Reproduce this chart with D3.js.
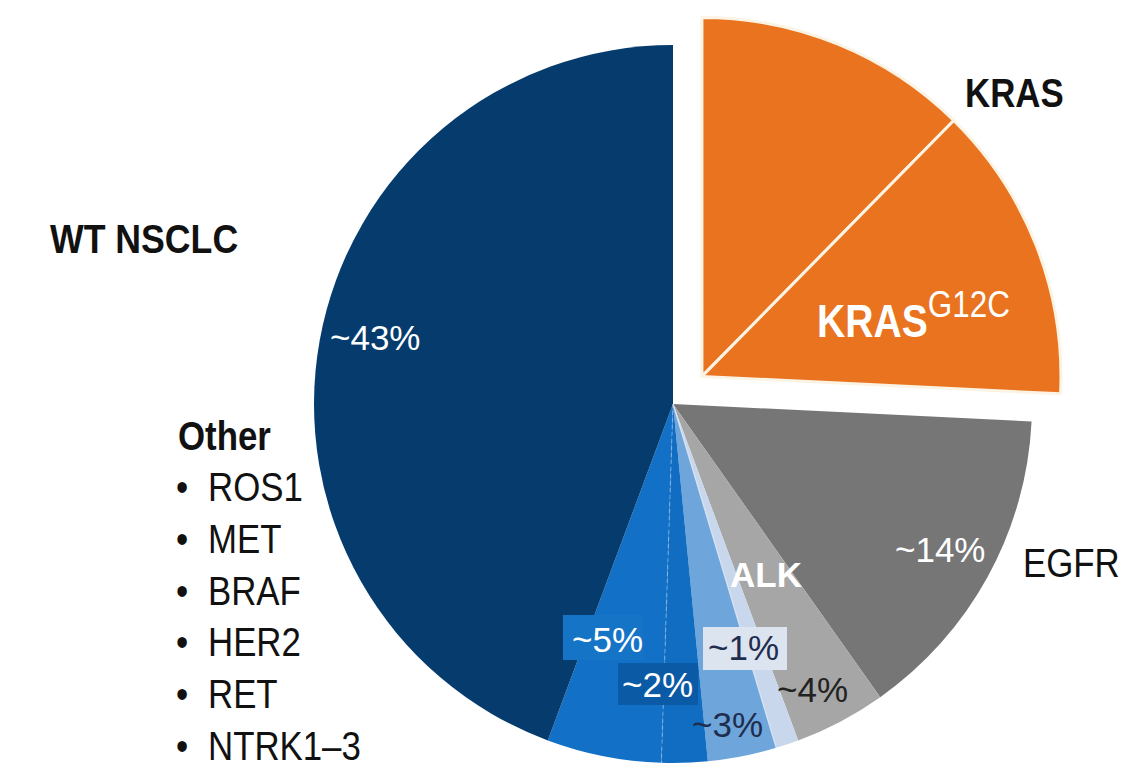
<!DOCTYPE html>
<html>
<head>
<meta charset="utf-8">
<script src="https://cdn.jsdelivr.net/npm/d3@7"></script>
<style>
  html, body { margin: 0; padding: 0; background: #ffffff; }
  svg { display: block; }
  text { font-family: "Liberation Sans", Arial, sans-serif; }
</style>
</head>
<body>
<svg id="chart" width="1132" height="769"></svg>
<script>
// Share of NSCLC by driver alteration (percent of patients)
const categories = ["KRAS (other)", "KRAS G12C", "EGFR", "ALK", "Other A", "Other B", "Other C", "Other D", "WT NSCLC"];
const shares     = [12, 13, 14, 4, 1, 3, 2, 5, 43];
const explodedCategories = ["KRAS (other)", "KRAS G12C"];
const otherDrivers = ["ROS1", "MET", "BRAF", "HER2", "RET", "NTRK1–3"];

// Visual settings
const colors = {
  "KRAS (other)": "#e9731e",
  "KRAS G12C":    "#e9731e",
  "EGFR":         "#767676",
  "ALK":          "#a6a6a6",
  "Other A":      "#c9d7ec",
  "Other B":      "#6ea6dc",
  "Other C":      "#106dc2",
  "Other D":      "#1271c6",
  "WT NSCLC":     "#063c6d"
};
const cx = 673, cy = 404, radius = 359, explode = 40;
const condensed = 0.87;

// Percentage label placement and style per slice
const pctLayout = {
  "EGFR":     { x: 895, y: 562, fill: "#ffffff" },
  "ALK":      { x: 777, y: 702, fill: "#222222" },
  "Other A":  { x: 708, y: 660, fill: "#1f2d4f", box: [703, 627, 84, 43, "#dce4ef"] },
  "Other B":  { x: 692, y: 737, fill: "#1f2d4f" },
  "Other C":  { x: 622, y: 697, fill: "#ffffff", box: [618, 663, 80, 42, "#0b5aa6"] },
  "Other D":  { x: 572, y: 652, fill: "#ffffff", box: [563, 615, 80, 45, "#1674c7"] },
  "WT NSCLC": { x: 330, y: 350, fill: "#ffffff" }
};

const svg = d3.select("#chart");

const pie = d3.pie().sort(null).value(d => d.value).startAngle(0).endAngle(2 * Math.PI);
const arcs = pie(categories.map((c, i) => ({ name: c, value: shares[i] })));
const arc = d3.arc().innerRadius(0).outerRadius(radius);

// Offset of the exploded KRAS group, along the bisector of its combined angle
const exArcs = arcs.filter(a => explodedCategories.includes(a.data.name));
const exMid = (d3.min(exArcs, a => a.startAngle) + d3.max(exArcs, a => a.endAngle)) / 2;
const [exDx, exDy] = d3.pointRadial(exMid, explode);

const pieG = svg.append("g").attr("transform", `translate(${cx},${cy})`);

pieG.selectAll("path.slice")
  .data(arcs)
  .join("path")
  .attr("class", "slice")
  .attr("d", arc)
  .attr("fill", d => colors[d.data.name])
  .attr("transform", d => explodedCategories.includes(d.data.name) ? `translate(${exDx},${exDy})` : null)
  .attr("stroke", d => explodedCategories.includes(d.data.name) ? "#fbf3e4" : "none")
  .attr("stroke-width", 3)
  .attr("stroke-linejoin", "round");

// Faint separators between neighbouring blue slices
const sepAfter = ["Other A", "Other C"];
arcs.filter(a => sepAfter.includes(a.data.name)).forEach(a => {
  const [x2, y2] = d3.pointRadial(a.endAngle, radius);
  pieG.append("line")
    .attr("x1", 0).attr("y1", 0).attr("x2", x2).attr("y2", y2)
    .attr("stroke", "#e8eef8")
    .attr("stroke-opacity", a.data.name === "Other C" ? 0.35 : 0.7)
    .attr("stroke-width", 1.2)
    .attr("stroke-dasharray", a.data.name === "Other C" ? "4 3" : null);
});

// Percentage labels (value taken from the slice data)
const pctG = svg.append("g");
arcs.forEach(a => {
  const lay = pctLayout[a.data.name];
  if (!lay) return;
  if (lay.box) {
    pctG.append("rect")
      .attr("x", lay.box[0]).attr("y", lay.box[1])
      .attr("width", lay.box[2]).attr("height", lay.box[3])
      .attr("fill", lay.box[4]);
  }
  pctG.append("text")
    .attr("x", lay.x).attr("y", lay.y)
    .attr("font-size", 35)
    .attr("fill", lay.fill)
    .text(`~${a.data.value}%`);
});

// ALK name inside the pie
svg.append("text")
  .attr("x", 730).attr("y", 587)
  .attr("font-size", 35).attr("font-weight", "bold")
  .attr("fill", "#ffffff")
  .text("ALK");

// Condensed text helper
function label(x, y, str, opts) {
  const g = svg.append("g").attr("transform", `translate(${x},${y}) scale(${condensed},1)`);
  return g.append("text")
    .attr("font-size", opts.size)
    .attr("font-weight", opts.weight || "normal")
    .attr("fill", opts.fill || "#111111")
    .text(str);
}

label(965, 107, "KRAS", { size: 40, weight: "bold" });
label(50, 253, "WT NSCLC", { size: 41, weight: "bold" });
label(1023, 577, "EGFR", { size: 40 });
label(178, 450, "Other", { size: 40, weight: "bold" });

// KRAS G12C label with superscript
const g12 = svg.append("g").attr("transform", `translate(817,337) scale(0.85,1)`)
  .append("text").attr("fill", "#ffffff");
g12.append("tspan").attr("font-size", 46).attr("font-weight", "bold").text("KRAS");
g12.append("tspan").attr("font-size", 37).attr("dy", -20).text("G12C");

// Bulleted list of other drivers
const rowY = d3.scalePoint().domain(otherDrivers).range([501, 760]);
otherDrivers.forEach(name => {
  label(176, rowY(name), "•", { size: 40 });
  label(208, rowY(name), name, { size: 40 });
});
</script>
</body>
</html>
